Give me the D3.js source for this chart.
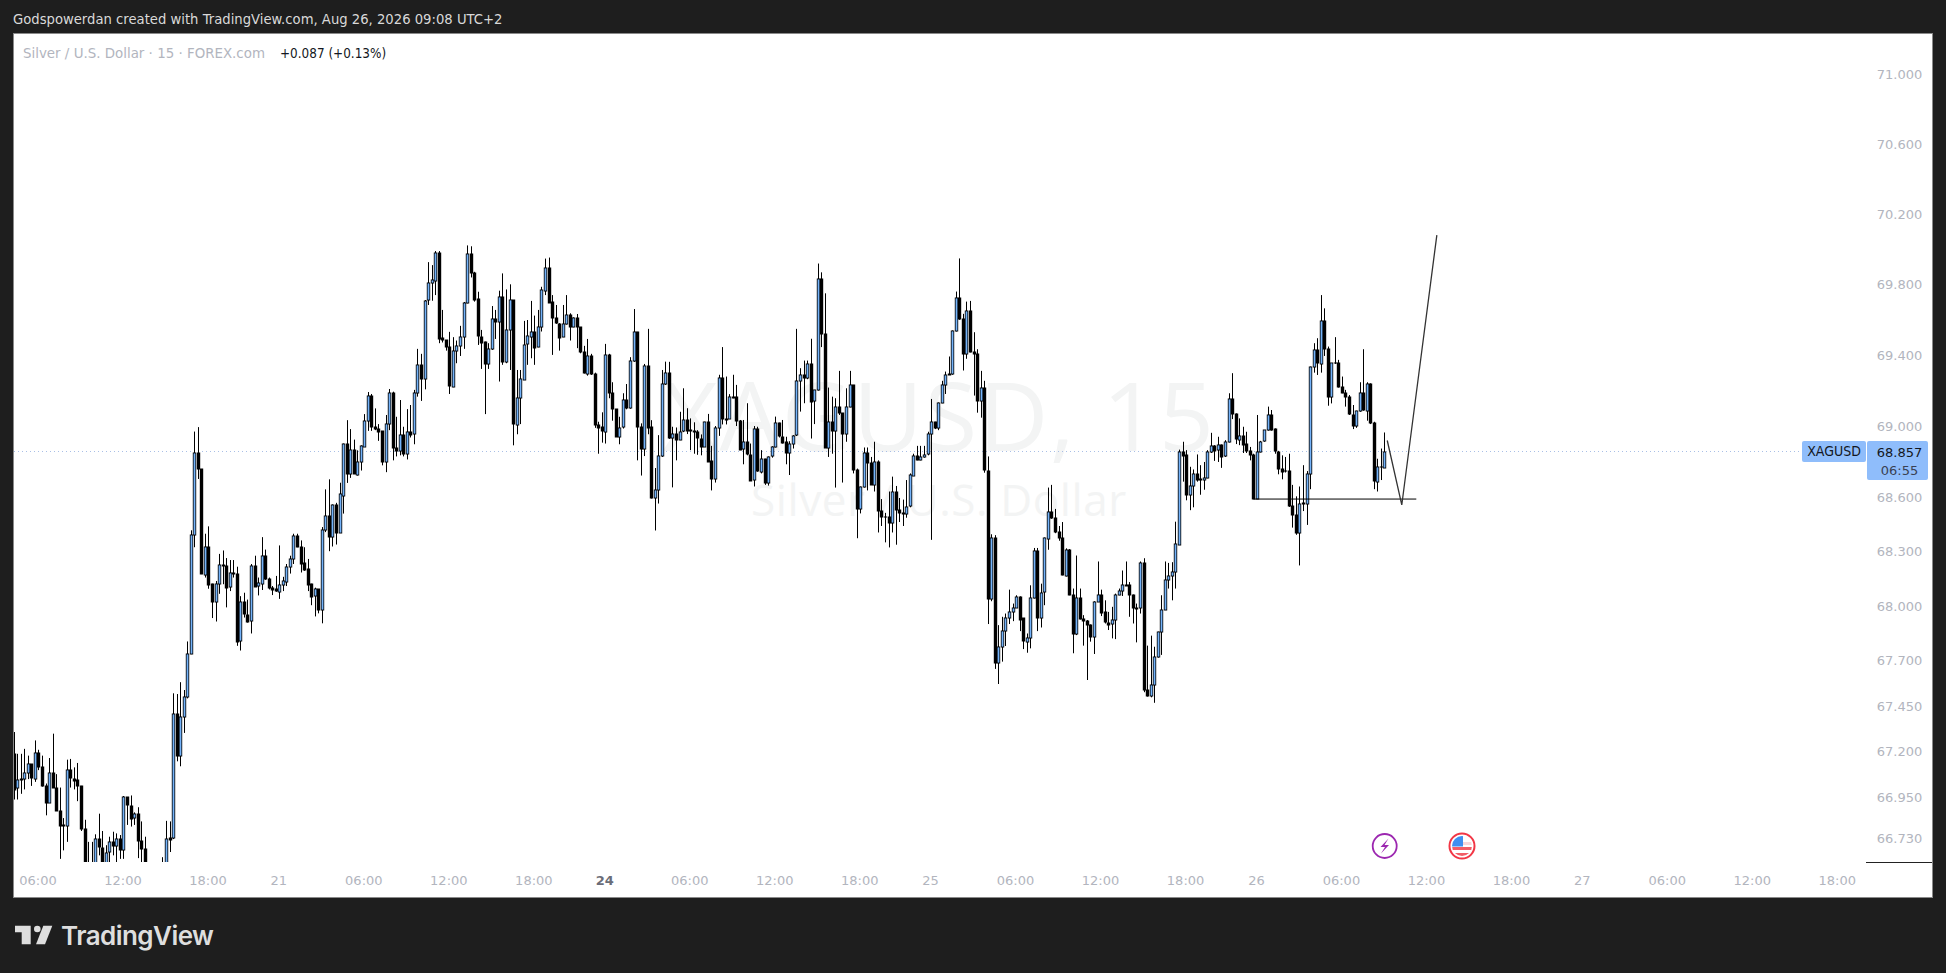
<!DOCTYPE html>
<html><head><meta charset="utf-8">
<script src="https://cdn.jsdelivr.net/npm/d3@7/dist/d3.min.js"></script>
<style>html,body{margin:0;padding:0;background:#1e1e1e;overflow:hidden}svg{display:block}</style>
</head><body><svg id="c" width="1946" height="973"></svg>
<script>
const opens=[67.188,66.998,67.044,67.05,67.083,67.132,67.053,67.193,67.114,67.013,
66.921,67.083,67.004,66.878,66.796,66.796,67.099,67.053,67.044,67.013,
66.777,66.562,66.525,66.59,66.724,66.678,66.593,66.65,66.706,66.685,
66.724,66.663,66.952,66.906,66.838,66.862,66.713,66.669,66.562,66.50,
66.47,66.52,66.50,66.56,66.722,66.728,67.403,67.175,67.39,67.497,
67.734,68.391,68.849,68.759,68.176,68.329,68.123,68.022,68.123,68.226,
68.222,68.101,68.181,68.177,67.804,68.02,67.951,67.918,68.222,68.106,
68.125,68.278,68.151,68.101,68.091,68.078,68.114,68.136,68.217,68.26,
68.385,68.329,68.237,68.204,68.12,68.05,68.091,67.977,68.422,68.499,
68.381,68.559,68.404,68.611,68.899,68.734,68.869,68.73,68.8,68.884,
69.027,69.17,68.997,68.987,68.972,68.796,69.01,69.185,68.878,68.861,
68.95,68.846,68.97,68.954,69.185,69.343,69.264,69.706,69.805,69.822,
69.98,69.495,69.484,69.444,69.222,69.422,69.45,69.501,69.694,69.974,
69.867,69.715,69.504,69.472,69.346,69.433,69.602,69.585,69.726,69.358,
69.54,69.709,69.008,69.157,69.264,69.459,69.506,69.533,69.444,69.557,
69.766,69.895,69.698,69.608,69.578,69.501,69.572,69.625,69.557,69.608,
69.557,69.416,69.296,69.395,69.292,69.008,68.993,68.969,69.399,69.185,
69.095,68.94,68.991,69.145,69.098,69.365,69.531,68.997,68.873,69.339,
68.993,68.596,68.643,68.833,69.237,69.298,68.937,68.959,68.925,68.971,
69.033,68.971,68.971,68.965,68.93,68.884,69.022,68.804,68.703,68.988,
69.27,69.042,69.042,69.163,69.166,69.031,68.869,68.909,68.84,68.696,
68.982,68.745,68.818,68.685,68.828,68.881,69.016,68.941,68.909,68.85,
68.903,68.948,69.253,69.287,69.268,69.349,69.138,69.202,69.828,69.518,
68.879,69.022,68.969,69.106,69.072,68.952,69.106,69.23,68.754,68.538,
68.659,68.851,68.795,68.672,68.802,68.526,68.494,68.494,68.462,68.632,
68.531,68.516,68.511,68.55,68.725,68.835,68.813,68.828,68.84,68.954,
69.022,68.988,69.129,69.23,69.289,69.292,69.535,69.721,69.603,69.403,
69.648,69.415,69.405,69.138,69.213,68.751,68.041,68.379,67.689,67.775,
67.863,67.934,67.967,67.991,68.05,67.931,67.803,67.825,68.044,68.302,
67.934,68.072,68.374,68.522,68.487,68.407,68.374,68.169,68.311,68.059,
67.845,68.044,67.927,67.916,67.894,67.827,68.022,68.063,67.964,67.907,
67.898,67.922,68.061,68.083,68.114,68.117,68.059,67.989,67.986,68.236,
67.537,67.506,67.565,67.72,67.858,67.977,68.143,68.165,68.187,68.341,
68.857,68.837,68.612,68.663,68.731,68.703,68.699,68.712,68.857,68.892,
68.866,68.894,68.828,68.909,69.151,69.067,68.928,68.948,68.898,68.86,
68.84,68.593,68.857,68.914,68.977,69.061,68.982,68.857,68.762,68.747,
68.747,68.553,68.505,68.407,68.566,68.566,68.73,69.33,69.427,69.354,
69.595,69.435,69.162,69.354,69.354,69.219,69.185,69.162,69.064,69.001,
69.083,69.185,69.087,69.236,69.016,68.69,68.772,68.767];
const highs=[67.307,67.188,67.188,67.215,67.178,67.132,67.261,67.21,67.178,67.026,
67.165,67.298,67.077,67.004,66.838,67.156,67.16,67.114,67.138,67.013,
66.829,66.709,66.709,66.75,66.862,66.768,66.691,66.737,66.764,66.755,
66.746,66.958,66.952,66.961,66.869,66.897,66.82,66.737,66.58,66.56,
66.55,66.57,66.626,66.823,66.82,67.519,67.515,67.58,67.537,67.804,
68.419,68.97,68.995,68.759,68.40,68.441,68.123,68.138,68.288,68.307,
68.265,68.254,68.254,68.217,68.054,68.073,68.035,68.232,68.278,68.157,
68.381,68.312,68.157,68.11,68.166,68.335,68.161,68.232,68.278,68.40,
68.40,68.363,68.325,68.26,68.123,68.101,68.091,68.437,68.647,68.703,
68.563,68.572,68.684,68.903,69.034,68.984,68.925,68.865,68.893,69.068,
69.192,69.181,69.10,69.012,68.972,69.063,69.209,69.194,69.053,69.147,
68.997,69.096,69.119,69.204,69.435,69.407,69.711,69.926,69.909,69.989,
69.989,69.655,69.484,69.531,69.501,69.482,69.565,69.70,70.021,70.016,
69.871,69.758,69.542,69.476,69.467,69.677,69.655,69.764,69.862,69.771,
69.80,69.709,69.316,69.316,69.593,69.598,69.706,69.623,69.655,69.786,
69.946,69.952,69.739,69.683,69.58,69.683,69.739,69.636,69.613,69.632,
69.557,69.452,69.491,69.407,69.301,69.025,69.078,69.463,69.407,69.247,
69.096,69.053,69.185,69.237,69.388,69.66,69.531,69.016,69.35,69.548,
69.034,68.766,68.95,69.316,69.363,69.362,68.997,68.993,69.081,69.213,
69.101,69.044,69.022,68.978,68.954,69.025,69.069,68.89,69.001,69.289,
69.445,69.279,69.18,69.289,69.232,69.035,69.035,69.129,68.903,69.001,
68.997,68.866,68.818,68.831,68.888,69.054,69.02,69.035,68.941,68.916,
68.95,69.548,69.326,69.369,69.369,69.492,69.204,69.918,69.868,69.749,
69.217,69.166,69.157,69.311,69.072,69.213,69.311,69.232,68.763,68.663,
68.881,68.881,68.828,68.913,68.809,68.593,68.516,68.635,68.718,68.666,
68.599,68.59,68.699,68.736,68.846,68.89,68.89,68.89,68.969,69.153,
69.025,69.133,69.255,69.307,69.392,69.539,69.759,69.947,69.633,69.702,
69.706,69.529,69.433,69.311,69.255,68.831,68.397,68.392,67.894,67.94,
67.958,68.09,68.013,68.059,68.053,67.931,67.848,68.114,68.321,68.321,
68.123,68.379,68.657,68.672,68.538,68.443,68.465,68.319,68.315,68.096,
68.279,68.096,67.949,67.922,67.898,68.026,68.246,68.09,68.031,67.967,
67.995,68.068,68.096,68.196,68.246,68.132,68.063,68.013,68.246,68.264,
67.781,67.836,67.775,67.858,68.059,68.246,68.238,68.242,68.467,68.869,
68.913,68.866,68.773,68.758,68.842,68.782,68.80,68.866,68.963,68.894,
68.941,68.898,68.922,69.185,69.298,69.072,69.044,68.997,68.969,68.884,
68.846,69.063,68.918,68.978,69.11,69.091,68.988,68.862,68.837,68.828,
68.846,68.672,68.608,68.663,68.782,68.749,69.335,69.467,69.495,69.739,
69.664,69.448,69.354,69.501,69.373,69.279,69.204,69.175,69.119,69.087,
69.247,69.433,69.247,69.241,69.025,68.818,68.875,68.965];
const lows=[66.939,66.939,66.97,66.994,67.05,67.013,67.035,67.099,67.009,66.853,
66.921,67.004,66.878,66.617,66.663,66.709,67.004,66.994,66.93,66.768,
66.525,66.488,66.507,66.584,66.636,66.59,66.584,66.584,66.636,66.584,
66.617,66.617,66.801,66.792,66.801,66.621,66.584,66.525,66.48,66.44,
66.43,66.46,66.46,66.50,66.654,66.724,67.147,67.12,67.302,67.491,
67.734,68.325,68.705,68.176,68.157,68.095,67.933,67.914,68.067,68.12,
67.992,68.082,68.157,67.78,67.754,67.936,67.908,67.848,68.106,68.058,
68.088,68.144,68.091,68.06,68.078,68.039,68.082,68.11,68.179,68.232,
68.325,68.185,68.194,68.082,68.004,67.942,67.959,67.904,68.409,68.303,
68.329,68.34,68.404,68.512,68.683,68.711,68.734,68.724,68.752,68.884,
68.974,68.974,68.978,68.918,68.781,68.743,68.978,68.809,68.831,68.837,
68.831,68.814,68.937,68.899,69.166,69.142,69.207,69.683,69.707,69.739,
69.467,69.471,69.425,69.181,69.219,69.354,69.395,69.435,69.692,69.839,
69.702,69.457,69.322,69.068,69.322,69.429,69.491,69.251,69.345,69.354,
69.316,68.893,68.955,69.012,69.26,69.345,69.382,69.345,69.444,69.533,
69.739,69.696,69.401,69.576,69.425,69.501,69.572,69.482,69.557,69.439,
69.41,69.296,69.284,69.288,68.991,68.846,68.908,68.903,69.157,69.031,
68.94,68.899,68.987,69.095,69.098,69.362,68.809,68.724,68.833,68.955,
68.596,68.418,68.568,68.828,69.232,68.929,68.658,68.809,68.922,68.967,
68.956,68.866,68.846,68.84,68.837,68.884,68.80,68.641,68.685,68.946,
69.01,69.01,69.042,69.157,69.001,68.866,68.787,68.837,68.696,68.663,
68.745,68.736,68.672,68.668,68.824,68.881,68.937,68.903,68.787,68.727,
68.875,68.945,69.082,69.129,69.264,68.931,69.012,69.20,69.445,68.879,
68.828,68.846,68.657,69.063,68.685,68.913,69.106,68.736,68.375,68.513,
68.657,68.641,68.672,68.635,68.407,68.443,68.352,68.324,68.407,68.339,
68.465,68.443,68.489,68.547,68.721,68.809,68.809,68.824,68.837,68.366,
68.984,68.978,69.129,69.181,69.289,69.289,69.533,69.599,69.313,69.379,
69.415,69.172,69.076,69.048,68.74,67.90,68.026,67.653,67.57,67.693,
67.779,67.90,67.916,67.989,67.861,67.762,67.742,67.766,68.041,67.861,
67.881,68.004,68.311,68.483,68.403,68.361,68.169,68.163,68.059,67.739,
67.839,67.925,67.781,67.592,67.803,67.735,68.022,67.944,67.903,67.867,
67.821,67.817,68.059,68.055,68.11,67.94,67.903,67.799,67.958,67.525,
67.501,67.497,67.467,67.715,67.73,67.977,68.096,68.031,68.096,68.341,
68.69,68.586,68.531,68.547,68.69,68.617,68.645,68.709,68.85,68.806,
68.80,68.767,68.828,68.909,69.04,68.90,68.894,68.85,68.85,68.809,
68.593,68.593,68.853,68.913,68.975,68.975,68.846,68.731,68.703,68.741,
68.549,68.434,68.394,68.224,68.526,68.449,68.648,69.301,69.288,69.301,
69.395,69.115,69.128,69.35,69.217,69.185,69.11,69.063,68.984,68.991,
69.081,69.087,69.031,69.012,68.648,68.635,68.699,68.767];
const closes=[66.994,67.044,67.05,67.083,67.132,67.053,67.193,67.114,67.009,66.921,
67.083,67.004,66.878,66.797,66.801,67.099,67.053,67.044,67.009,66.777,
66.562,66.525,66.59,66.724,66.678,66.593,66.65,66.706,66.685,66.724,
66.663,66.952,66.906,66.838,66.862,66.713,66.669,66.562,66.50,66.47,
66.52,66.50,66.53,66.724,66.731,67.403,67.175,67.39,67.497,67.734,
68.391,68.849,68.759,68.176,68.329,68.12,68.022,68.123,68.226,68.222,
68.101,68.181,68.177,67.804,68.02,67.951,67.914,68.222,68.106,68.125,
68.278,68.151,68.101,68.088,68.078,68.114,68.136,68.217,68.26,68.385,
68.325,68.236,68.20,68.118,68.05,68.091,67.977,68.422,68.499,68.381,
68.559,68.404,68.619,68.899,68.734,68.869,68.734,68.80,68.888,69.027,
69.17,68.997,68.984,68.969,68.796,69.01,69.185,68.878,68.861,68.95,
68.846,68.97,68.954,69.185,69.343,69.264,69.706,69.805,69.822,69.98,
69.495,69.484,69.444,69.222,69.422,69.45,69.501,69.694,69.974,69.867,
69.715,69.504,69.472,69.346,69.433,69.602,69.585,69.726,69.358,69.54,
69.709,69.008,69.157,69.264,69.459,69.506,69.533,69.444,69.557,69.766,
69.895,69.698,69.608,69.578,69.501,69.574,69.625,69.557,69.608,69.557,
69.416,69.296,69.395,69.292,69.008,68.993,68.969,69.399,69.185,69.095,
68.94,68.991,69.145,69.098,69.365,69.531,68.997,68.873,69.339,68.993,
68.596,68.643,68.833,69.237,69.298,68.933,68.959,68.925,68.97,69.033,
68.971,68.977,68.965,68.93,68.884,69.022,68.80,68.703,68.988,69.27,
69.039,69.039,69.163,69.166,69.031,68.869,68.909,68.84,68.696,68.982,
68.745,68.818,68.685,68.828,68.881,69.016,68.941,68.909,68.85,68.903,
68.948,69.253,69.287,69.268,69.349,69.138,69.202,69.828,69.518,68.879,
69.022,68.969,69.106,69.072,68.952,69.106,69.23,68.754,68.538,68.659,
68.851,68.795,68.672,68.802,68.526,68.494,68.493,68.462,68.632,68.531,
68.516,68.513,68.55,68.725,68.835,68.813,68.828,68.84,68.954,69.022,
68.988,69.129,69.23,69.289,69.292,69.535,69.721,69.603,69.403,69.648,
69.415,69.405,69.138,69.213,68.751,68.041,68.379,67.689,67.775,67.863,
67.934,67.967,67.991,68.05,67.925,67.803,67.825,68.044,68.302,67.934,
68.072,68.374,68.522,68.487,68.407,68.374,68.169,68.311,68.059,67.845,
68.044,67.927,67.916,67.894,67.827,68.022,68.063,67.964,67.907,67.898,
67.922,68.061,68.083,68.114,68.117,68.059,67.989,67.986,68.236,67.534,
67.506,67.565,67.72,67.858,67.977,68.143,68.165,68.187,68.341,68.857,
68.833,68.612,68.663,68.731,68.696,68.699,68.712,68.857,68.892,68.866,
68.894,68.828,68.909,69.151,69.067,68.928,68.948,68.898,68.86,68.84,
68.593,68.857,68.914,68.977,69.061,68.978,68.857,68.762,68.747,68.745,
68.553,68.505,68.407,68.566,68.569,68.731,69.33,69.427,69.354,69.595,
69.435,69.162,69.354,69.352,69.219,69.185,69.162,69.064,69.001,69.083,
69.185,69.087,69.236,69.016,68.69,68.772,68.774,68.857];
const priceTicks=[71,70.6,70.2,69.8,69.4,69,68.6,68.3,68,67.7,67.45,67.2,66.95,66.73];
const timeTickBars=[7,31,55,75,99,123,147,167,191,215,239,259,283,307,331,351,375,399,423,443,467,491,515];
const timeTickLabels=["06:00","12:00","18:00","21","06:00","12:00","18:00","24","06:00","12:00","18:00","25","06:00","12:00","18:00","26","06:00","12:00","18:00","27","06:00","12:00","18:00"];
const lastPrice=68.857;
const levelBars=[350,396], levelPrice=68.593;
const pathBars=[387.8,391.9,401.8], pathPrices=[68.92,68.56,70.08];

const svg=d3.select("#c");
const x=d3.scaleLinear().domain([0,387]).range([13.67,13.67+3.542*387]);
const y=d3.scaleLog().domain([71,66.73]).range([74.5,838]);
const snap=v=>Math.round(v);
const FONT="'DejaVu Sans',sans-serif";
const GREY="#b2b5be";

svg.append("rect").attr("width",1946).attr("height",973).attr("fill","#1e1e1e");
svg.append("rect").attr("x",13.5).attr("y",33.5).attr("width",1919).attr("height",864).attr("fill","#fff").attr("stroke","#8a8a8a").attr("stroke-width",1);
svg.append("defs").append("clipPath").attr("id","plot").append("rect").attr("x",14).attr("y",34).attr("width",1852).attr("height",828);

// watermark
svg.append("text").attr("x",939).attr("y",451).attr("text-anchor","middle").attr("font-family","'Open Sans'").attr("font-size",96).attr("letter-spacing",1.5).attr("fill","#f3f4f4").text("XAGUSD, 15");
svg.append("text").attr("x",939).attr("y",516).attr("text-anchor","middle").attr("font-family","'Open Sans'").attr("font-size",44).attr("letter-spacing",.6).attr("fill","#f3f4f4").text("Silver / U.S. Dollar");

// last price line
svg.append("line").attr("x1",14).attr("x2",1802).attr("y1",Math.floor(y(lastPrice))+.5).attr("y2",Math.floor(y(lastPrice))+.5).attr("stroke","#a9bfe6").attr("stroke-dasharray","1 3");

// candles
const g=svg.append("g").attr("clip-path","url(#plot)");
const idx=d3.range(opens.length);
g.selectAll("line.w").data(idx).join("line").attr("class","w")
 .attr("x1",i=>snap(x(i))+.5).attr("x2",i=>snap(x(i))+.5)
 .attr("y1",i=>y(highs[i])).attr("y2",i=>y(lows[i])).attr("stroke","#000").attr("stroke-width",1);
g.selectAll("rect.b").data(idx).join("rect").attr("class","b")
 .attr("x",i=>snap(x(i))-1.2).attr("width",3.4)
 .attr("y",i=>Math.round(y(Math.max(opens[i],closes[i])))-.5)
 .attr("height",i=>Math.max(1,Math.round(Math.abs(y(opens[i])-y(closes[i])))+1))
 .attr("fill","#000");
g.selectAll("rect.u").data(idx.filter(i=>closes[i]>opens[i]&&Math.abs(y(opens[i])-y(closes[i]))>=2)).join("rect").attr("class","u")
 .attr("x",i=>snap(x(i))-.4).attr("width",1.8)
 .attr("y",i=>Math.round(y(closes[i]))+.4)
 .attr("height",i=>Math.max(.5,Math.round(Math.abs(y(opens[i])-y(closes[i])))-.8))
 .attr("fill","#74b3fa");

// drawings
svg.append("line").attr("x1",x(levelBars[0])).attr("x2",x(levelBars[1])).attr("y1",y(levelPrice)).attr("y2",y(levelPrice)).attr("stroke","#000").attr("stroke-width",1);
svg.append("path").attr("d",d3.line().x(d=>x(d[0])).y(d=>y(d[1]))(pathBars.map((b,i)=>[b,pathPrices[i]]))).attr("fill","none").attr("stroke","#333").attr("stroke-width",1.3);

// y axis
const ya=svg.append("g").attr("transform","translate(1899.5,0)").call(d3.axisRight(y).tickValues(priceTicks).tickFormat(d3.format(".3f")).tickSize(0).tickPadding(0));
ya.select(".domain").remove();
ya.selectAll("text").attr("text-anchor","middle").attr("font-family",FONT).attr("font-size",13).attr("fill",GREY);
svg.append("line").attr("x1",1866).attr("x2",1932).attr("y1",862.5).attr("y2",862.5).attr("stroke","#222");

// x axis
const xa=svg.append("g").attr("transform","translate(-1,876)").call(d3.axisBottom(x).tickValues(timeTickBars).tickFormat((d,i)=>timeTickLabels[i]).tickSize(0).tickPadding(0));
xa.select(".domain").remove();
xa.selectAll("text").attr("font-family",FONT).attr("font-size",13).attr("fill",(d,i)=>timeTickLabels[i]==="24"?"#6a6d78":GREY).attr("font-weight",(d,i)=>timeTickLabels[i]==="24"?"bold":"normal").attr("dy","0.71em");

// tags
svg.append("rect").attr("x",1802).attr("y",441).attr("width",64).attr("height",21).attr("rx",2).attr("fill","#8fbdfb");
svg.append("text").attr("x",1834).attr("y",456).attr("text-anchor","middle").attr("font-family","'DejaVu Sans Condensed'").attr("font-size",14).attr("fill","#131722").text("XAGUSD");
svg.append("rect").attr("x",1867).attr("y",441).attr("width",61).attr("height",39).attr("rx",2).attr("fill","#8fbdfb");
svg.append("text").attr("x",1899.5).attr("y",457).attr("text-anchor","middle").attr("font-family",FONT).attr("font-size",13).attr("fill","#131722").text(d3.format(".3f")(lastPrice));
svg.append("text").attr("x",1899.5).attr("y",475).attr("text-anchor","middle").attr("font-family",FONT).attr("font-size",13).attr("fill","#3a4152").text("06:55");

// header texts
svg.append("text").attr("x",13).attr("y",24).attr("font-family",FONT).attr("font-size",13.2).attr("fill","#d9d9d9").text("Godspowerdan created with TradingView.com, Aug 26, 2026 09:08 UTC+2");
svg.append("text").attr("x",23).attr("y",58).attr("font-family",FONT).attr("font-size",13.4).attr("fill",GREY).text("Silver / U.S. Dollar · 15 · FOREX.com");
svg.append("text").attr("x",280).attr("y",58).attr("font-family","'DejaVu Sans Condensed'").attr("font-size",13.4).attr("fill","#131722").text("+0.087 (+0.13%)");

// logo
const logo=svg.append("g").attr("fill","#dedede");
logo.append("path").attr("d","M15 925.7H30.7V944.3H21.7V932.3H15Z");
logo.append("circle").attr("cx",37.3).attr("cy",929).attr("r",3.3);
logo.append("path").attr("d","M43.3 925.7H52.3L45 944.3H36Z");
logo.append("text").attr("x",61).attr("y",945).attr("font-family","Inter").attr("font-weight",600).attr("font-size",26).attr("letter-spacing",-.55).text("TradingView");

// event icons
svg.append("circle").attr("cx",1384.7).attr("cy",846).attr("r",12).attr("fill","#fff").attr("stroke","#9c27b0").attr("stroke-width",1.8);
svg.append("path").attr("d","M1388.5 838.5L1380.5 847H1385L1381 853.5L1389 845H1384.5Z").attr("fill","#9c27b0");
svg.append("defs").append("clipPath").attr("id","flag").append("circle").attr("cx",1462).attr("cy",846).attr("r",10);
svg.append("circle").attr("cx",1462).attr("cy",846).attr("r",12.5).attr("fill","#fff").attr("stroke","#f23645").attr("stroke-width",2);
const fl=svg.append("g").attr("clip-path","url(#flag)");
fl.append("rect").attr("x",1452).attr("y",842).attr("width",20).attr("height",3).attr("fill","#f7d7d9");
fl.append("rect").attr("x",1452).attr("y",847).attr("width",20).attr("height",3).attr("fill","#f25d66");
fl.append("rect").attr("x",1452).attr("y",853).attr("width",20).attr("height",3).attr("fill","#f25d66");
fl.append("rect").attr("x",1452).attr("y",836).attr("width",11).attr("height",10.5).attr("fill","#3f8fef");
</script></body></html>
